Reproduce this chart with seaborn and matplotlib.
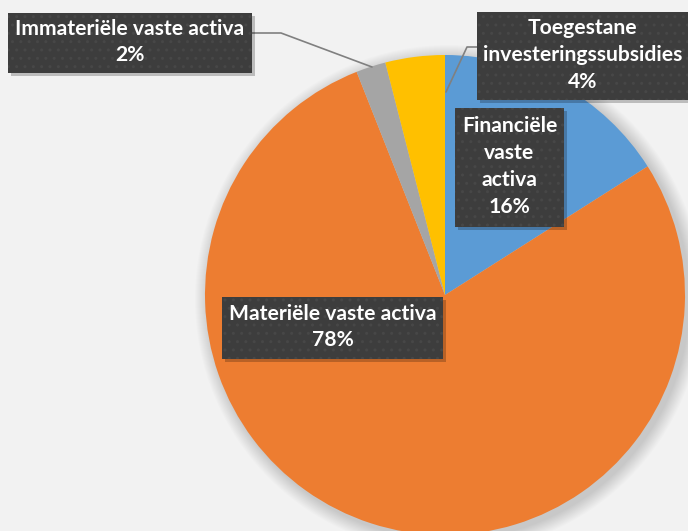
import matplotlib
matplotlib.use("Agg")
import matplotlib.pyplot as plt
import seaborn as sns
from matplotlib.patches import Rectangle, Circle
from matplotlib.lines import Line2D

# Slices in clockwise order starting at 12 o'clock
categories = ["Financiële\nvaste\nactiva", "Materiële vaste activa",
              "Immateriële vaste activa", "Toegestane\ninvesteringssubsidies"]
shares = [16, 78, 2, 4]
colors = ["#5B9BD5", "#ED7D31", "#A5A5A5", "#FFC000"]

sns.set_theme(style="white")
plt.rcParams["font.family"] = ["Lato", "DejaVu Sans"]
plt.rcParams["hatch.linewidth"] = 1.0

W, H = 688, 531
BG = "#F2F2F2"
fig = plt.figure(figsize=(W / 100, H / 100), dpi=100, facecolor=BG)
ax = fig.add_axes([0, 0, 1, 1])
ax.set_facecolor(BG)

cx, cy, R = 445, 295, 240  # pie centre / radius in pixel units (y from top)

# soft drop shadow under the pie
for k in range(14):
    ax.add_patch(Circle((cx + 4, H - cy - 4), R + 14 - k, color="black",
                        alpha=0.010, lw=0, zorder=0))

ax.pie(shares, colors=colors, startangle=90, counterclock=False,
       center=(cx, H - cy), radius=R, wedgeprops=dict(linewidth=0),
       frame=False)
ax.set_xlim(0, W)
ax.set_ylim(0, H)
ax.set_aspect("equal")
ax.axis("off")


def label_box(x0, y0, x1, y1, text):
    # shadow
    ax.add_patch(Rectangle((x0 + 3, H - y1 - 3), x1 - x0, y1 - y0,
                           color="black", alpha=0.22, lw=0, zorder=4))
    ax.add_patch(Rectangle((x0, H - y1), x1 - x0, y1 - y0,
                           facecolor="#3D3D3D", edgecolor="#474747",
                           hatch="..", lw=0, zorder=5))
    ax.text((x0 + x1) / 2, H - (y0 + y1) / 2 + 1, text, ha="center",
            va="center", multialignment="center", color="white",
            fontweight="bold", fontsize=15.2, linespacing=1.42, zorder=6)


def leader(points):
    xs = [p[0] for p in points]
    ys = [H - p[1] for p in points]
    ax.add_line(Line2D(xs, ys, color="#808080", lw=1.2, zorder=3))


leader([(252, 33), (281, 33), (372, 67)])
leader([(477, 47), (467, 47), (446, 92)])

boxes = [(455, 108, 564, 227), (222, 297, 443, 359),
         (8, 13, 252, 73), (477, 12, 688, 100)]
for (x0, y0, x1, y1), cat, s in zip(boxes, categories, shares):
    label_box(x0, y0, x1, y1, f"{cat}\n{s}%")

fig.savefig("out.png", dpi=100, facecolor=BG)
